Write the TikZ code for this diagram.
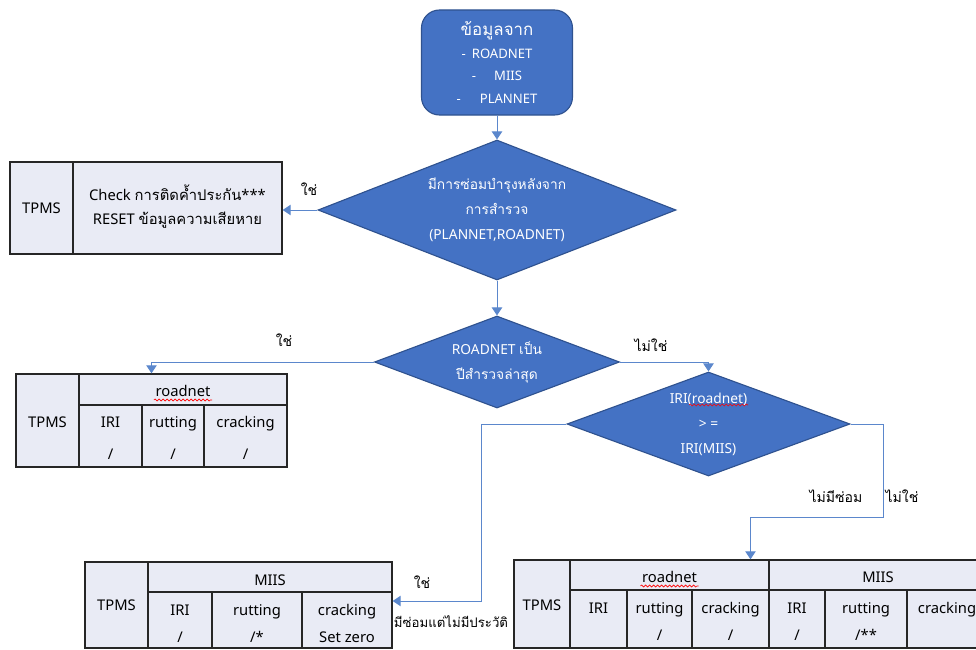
\documentclass[tikz,border=0pt]{standalone}
\usepackage{fontspec}
\setmainfont{Noto Sans}
\newfontfamily\thaifont[Script=Thai]{Loma}
\usepackage{tikz}
\usetikzlibrary{positioning,arrows.meta,shapes.geometric,decorations.pathmorphing}
\usepackage{xcolor}
\definecolor{boxblue}{HTML}{4472C4}
\definecolor{edgeblue}{HTML}{2F528F}
\definecolor{lineblue}{HTML}{5B87CC}
\definecolor{tablefill}{HTML}{E9EBF5}
\newcommand{\thai}[1]{{\thaifont #1}}

\begin{document}
\begin{tikzpicture}[x=0.25mm,y=-0.25mm,>={Triangle[length=2mm,width=2.6mm]},
  source/.style={draw=edgeblue,fill=boxblue,rounded corners=4.5mm,text=white,align=center,line width=0.8pt,font=\fontsize{9.3}{16}\selectfont},
  decision/.style={diamond,aspect=2.5,draw=edgeblue,fill=boxblue,text=white,align=center,inner sep=0pt,line width=0.8pt,font=\fontsize{9.8}{17.8}\selectfont},
  tbl/.style={draw=black!85,fill=tablefill,line width=1pt,inner sep=0pt},
  grid/.style={draw=black!85,line width=1pt},
  cell/.style={anchor=base,inner sep=1pt,font=\fontsize{10.5}{13}\selectfont},
  lbl/.style={inner sep=1pt,font=\fontsize{10}{12}\selectfont},
  flow/.style={->,draw=lineblue,line width=0.7pt},
  spell/.style={draw=red,line width=0.4pt,decorate,decoration={snake,amplitude=0.25mm,segment length=1mm}}]
\useasboundingbox (0,0) rectangle (976,650);
\clip (0,0) rectangle (976,650);

\node[source,minimum width=37.75mm,minimum height=26.25mm] (src) at (497,62.5) {{\large\thai{ข้อมูลจาก}}\\-\hspace{1.5mm}ROADNET\\-\hspace{4.5mm}MIIS\\-\hspace{4.75mm}PLANNET};
\node[decision,minimum width=89.5mm,minimum height=35mm] (d1) at (497,210) {\thai{มีการซ่อมบำรุงหลังจาก}\\\thai{การสำรวจ}\\(PLANNET,ROADNET)};
\node[decision,minimum width=61.25mm,minimum height=23mm] (d2) at (497,362) {ROADNET \thai{เป็น}\\\thai{ปีสำรวจล่าสุด}};
\node[decision,minimum width=70.75mm,minimum height=26mm] (d3) at (708.5,424) {IRI(roadnet)\\> =\\IRI(MIIS)};
\draw[spell] (689,405) -- (748,405);

% TPMS / check
\node[tbl,minimum width=68mm,minimum height=23mm] (t1) at (146,208) {};
\draw[grid] (73,162) -- (73,254);
\node[cell] (t1a) at (41.5,213) {TPMS};
\node[cell] (t1b) at (177.5,200) {Check \thai{การติดค้ำประกัน}***};
\node[cell] (t1c) at (177.5,224) {RESET \thai{ข้อมูลความเสียหาย}};

% TPMS / roadnet
\node[tbl,minimum width=67.75mm,minimum height=23.25mm] (t2) at (151.5,420.5) {};
\draw[grid] (79,374) -- (79,467) (79,405) -- (287,405);
\foreach \cx in {142,204} \draw[grid] (\cx,405) -- (\cx,467);
\node[cell] (t2a) at (47.5,427) {TPMS};
\node[cell] (t2t) at (183,396) {roadnet};
\draw[spell] ([yshift=-1mm]t2t.base west) -- ([yshift=-1mm]t2t.base east);
\foreach \cx/\word [count=\i] in {110.5/IRI,173/rutting,245.5/cracking}{
  \node[cell] (t2h\i) at (\cx,427) {\word};
  \node[cell] (t2v\i) at (\cx,459) {/};
}

% TPMS / MIIS
\node[tbl,minimum width=76.75mm,minimum height=21.5mm] (t3) at (238.5,605) {};
\draw[grid] (148,562) -- (148,648) (148,592) -- (392,592);
\foreach \cx in {212,302} \draw[grid] (\cx,592) -- (\cx,648);
\node[cell] (t3a) at (116.5,610) {TPMS};
\node[cell] (t3t) at (270,585) {MIIS};
\foreach \cx/\word/\val [count=\i] in {180/IRI/{/},257/rutting/{/*},347/cracking/{Set zero}}{
  \node[cell] (t3h\i) at (\cx,615) {\word};
  \node[cell] (t3v\i) at (\cx,642) {\val};
}

% TPMS / roadnet + MIIS
\node[tbl,minimum width=118.25mm,minimum height=22mm] (t4) at (750.5,604) {};
\draw[grid] (570,560) -- (570,648) (570,590) -- (987,590) (769,560) -- (769,648);
\foreach \cx in {627,692,825,907} \draw[grid] (\cx,590) -- (\cx,648);
\node[cell] (t4a) at (542,610) {TPMS};
\node[cell] (t4t) at (669.5,582) {roadnet};
\draw[spell] ([yshift=-1mm]t4t.base west) -- ([yshift=-1mm]t4t.base east);
\node[cell] (t4u) at (878,582) {MIIS};
\foreach \cx/\word/\val [count=\i] in {598.5/IRI/{},659.5/rutting/{/},730.5/cracking/{/},797/IRI/{/},866/rutting/{/**},947/cracking/{}}{
  \node[cell] (t4h\i) at (\cx,613) {\word};
  \node[cell] (t4v\i) at (\cx,640) {\val};
}

\coordinate (bend3) at (481,601);
\coordinate (bend4) at (883,517);
\draw[flow] (src) -- (d1);
\draw[flow] (d1.west) -- (d1.west -| t1.east);
\draw[flow] (d1) -- (d2);
\draw[flow] (d2.west) -| (t2.north);
\draw[flow] (d2.east) -| (d3.north);
\draw[flow] (d3.west) -| (bend3) -- (bend3 -| t3.east);
\draw[flow] (d3.east) -| (bend4) -| (t4.north);

\node[lbl] (yes1) at (309,189) {\thai{ใช่}};
\node[lbl] (yes2) at (284,340) {\thai{ใช่}};
\node[lbl] (no2) at (651,345) {\thai{ไม่ใช่}};
\node[lbl] (norep) at (836,496) {\thai{ไม่มีซ่อม}};
\node[lbl] (no3) at (902,496) {\thai{ไม่ใช่}};
\node[lbl] (yes3) at (422,582) {\thai{ใช่}};
\node[lbl,font=\fontsize{9.4}{12}\selectfont] (nohist) at (451,622) {\thai{มีซ่อมแต่ไม่มีประวัติ}};
\end{tikzpicture}
\end{document}
